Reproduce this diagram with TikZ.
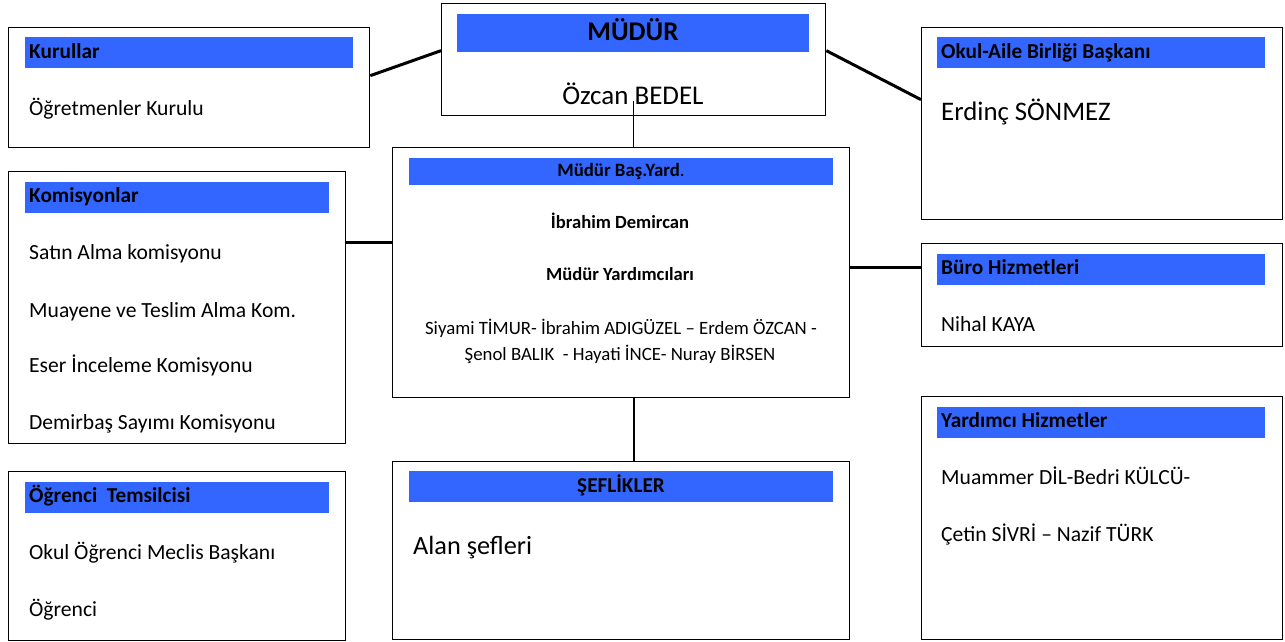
\documentclass[tikz,border=0pt]{standalone}
\usepackage{fontspec}
\setmainfont{Carlito}
\definecolor{mavi}{HTML}{3366FF}
\tikzset{
  kutu/.style={draw, line width=1.3pt, anchor=north west, inner sep=0pt},
  serit/.style={fill=mavi, anchor=north west, inner sep=0pt},
  yazi/.style={anchor=base west, inner sep=0pt, font=\fontsize{21.6}{24}\selectfont},
  kalin/.style={yazi, font=\fontsize{21.3}{24}\selectfont\bfseries},
  orta/.style={anchor=base, inner sep=0pt, font=\fontsize{18.8}{20}\selectfont},
  hat/.style={line width=3pt},
}
\begin{document}
\begin{tikzpicture}[x=1pt, y=-1pt]
\useasboundingbox (0,0) rectangle (1285,641);

% kutular
\foreach \ad/\x/\y/\w/\h in {
kurul/8/27/361/120, mudur/441/3/384/112, aile/921/27/361/192,
basyard/392/147/457/250, komis/8/171/337/272, buro/921/243/361/103,
yrd/921/396/361/243, ogr/8/471/337/169, sef/392/461/457/178}
  \node[kutu, minimum width=\w pt, minimum height=\h pt] (\ad) at (\x,\y) {};

% mavi seritler
\foreach \ad/\x/\y/\w/\h in {
kurul/25/37/328/31, mudur/457/14/352/38, aile/937/37/328/31,
basyard/409/158/424/27, komis/25/182/304/31, buro/937/254/328/31,
yrd/937/407/328/31, ogr/25/482/304/31, sef/409/471/424/31}
  \node[serit, minimum width=\w pt, minimum height=\h pt] (s-\ad) at (\x,\y) {};

% basliklar
\foreach \x/\y/\t [count=\i] in {
29/58/Kurullar, 941/58/Okul-Aile Birliği Başkanı, 29/202/Komisyonlar,
941/274/Büro Hizmetleri, 941/427/Yardımcı Hizmetler, 29/502/Öğrenci~ Temsilcisi}
  \node[kalin] (b\i) at (\x,\y) {\t};

% isimler
\foreach \x/\y/\t [count=\i] in {
29/115/Öğretmenler Kurulu,
29/259/Satın Alma komisyonu, 29/317/Muayene ve Teslim Alma Kom.,
29/372/Eser İnceleme Komisyonu, 29/429/Demirbaş Sayımı Komisyonu,
941/331/Nihal KAYA, 941/484/Muammer DİL-Bedri KÜLCÜ-,
941/541/Çetin SİVRİ – Nazif TÜRK,
29/559/Okul Öğrenci Meclis Başkanı, 29/616/Öğrenci}
  \node[yazi] (n\i) at (\x,\y) {\t};

\node[yazi, font=\fontsize{26.8}{30}\selectfont] (erdinc) at (941,120) {Erdinç SÖNMEZ};
\node[yazi, font=\fontsize{26.3}{30}\selectfont] (alan) at (413,554) {Alan şefleri};

\node[orta, font=\fontsize{27}{30}\selectfont\bfseries] (mudurbas) at (633,40) {MÜDÜR};
\node[orta, font=\fontsize{27}{30}\selectfont] (ozcan) at (633,104) {Özcan BEDEL};
\node[orta] (bytxt) at (621,176) {\bfseries Müdür Baş.Yard\mdseries.};
\node[orta, font=\fontsize{18.6}{20}\selectfont\bfseries] (ibrahim) at (620,228) {İbrahim Demircan};
\node[orta, font=\fontsize{18.6}{20}\selectfont\bfseries] (myrd) at (620,280) {Müdür Yardımcıları};
\node[orta] (sat1) at (621,334) {Siyami TİMUR- İbrahim ADIGÜZEL – Erdem ÖZCAN -};
\node[orta] (sat2) at (620,360) {Şenol BALIK~ - Hayati İNCE- Nuray BİRSEN};
\node[orta, font=\fontsize{21.2}{22}\selectfont\bfseries] (seftxt) at (621,492) {ŞEFLİKLER};

% baglantilar
\draw[hat] ([yshift=12pt]kurul.east) -- ([yshift=9pt]mudur.west);
\draw[hat] ([yshift=9pt]mudur.east) -- ([yshift=24pt]aile.west);
\coordinate (k1) at ([yshift=30pt]basyard.west);
\draw[hat] (k1) -- (k1 -| komis.east);
\coordinate (k2) at ([yshift=5pt]basyard.east);
\draw[hat] (k2) -- (k2 -| buro.west);
\draw[line width=1.5pt] ([yshift=15pt]mudur.south) -- (mudur.south |- basyard.north);
\draw[line width=2.2pt] (mudur.south |- basyard.south) -- (mudur.south |- sef.north);

\end{tikzpicture}
\end{document}
